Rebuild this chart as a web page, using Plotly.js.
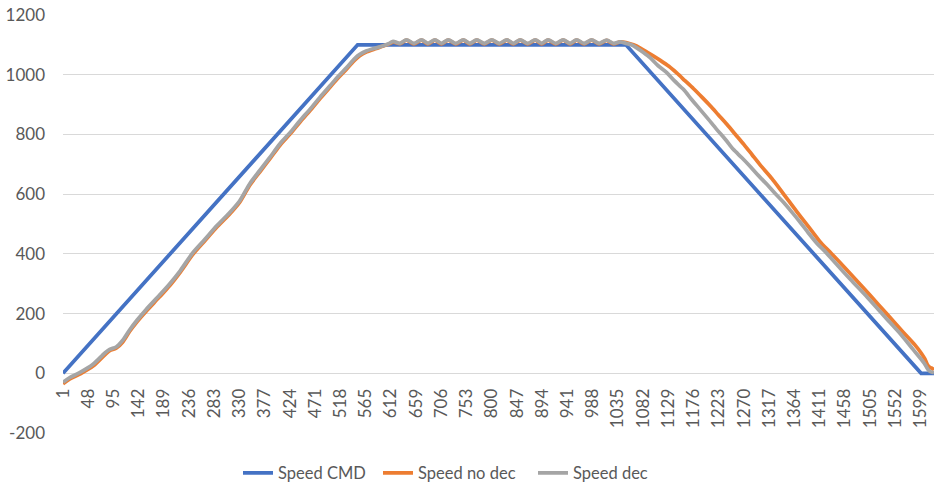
<!DOCTYPE html>
<html>
<head>
<meta charset="utf-8">
<script src="https://cdn.plot.ly/plotly-3.0.1.min.js"></script>
<style>html,body{margin:0;padding:0;background:#fff;}#chart{width:937px;height:489px;}</style>
</head>
<body>
<div id="chart"></div>
<script>
// Speed CMD (trapezoid corner samples)
const cmdX = [1, 550, 1050, 1600, 1624];
const cmdY = [0, 1100, 1100, 0, 0];

// Speed no dec
const noDecX = [1,13,32,57,79,88,100,112,125,140,156,181,200,220,243,265,287,310,330,349,368,386,405,424,442,461,480,498,514,530,545,554,567,585,598,610,
  616,629,641,655,669,681,694,706,719,733,747,759,772,786,800,814,828,840,853,867,881,893,905,919,933,946,958,972,986,1000,1014,1027,1039,
  1050,1064,1076,1089,1100,1114,1130,1145,1160,1176,1192,1207,1222,1238,1254,1270,1285,1300,1322,1338,1353,1369,1385,1400,1412,1428,1444,1475,1505,1536,1567,1588,1600,1607,1612,1616,1621,1624];
const noDecY = [-35,-20,-3,24,62,76,84,104,140,175,208,256,294,340,398,443,488,530,572,630,675,717,763,801,840,879,920,957,990,1020,1050,1064,1077,1088,1096,1104,
  1110,1104,1116,1103,1116,1103,1116,1103,1116,1103,1116,1103,1116,1103,1116,1103,1116,1103,1116,1103,1116,1103,1116,1103,1116,1103,1116,1103,1116,1103,1115,1103,1110,
  1108,1100,1090,1076,1064,1048,1028,1005,980,953,924,896,866,834,800,766,732,698,652,614,578,540,503,468,440,410,380,320,261,199,137,96,68,48,28,20,16,12];

// Speed dec
const decX = [1,13,32,57,79,88,100,112,125,140,156,181,200,220,243,265,287,310,330,349,368,386,405,424,442,461,480,498,514,530,545,554,567,585,598,610,
  616,629,641,655,669,681,694,706,719,733,747,759,772,786,800,814,828,840,853,867,881,893,905,919,933,946,958,972,986,1000,1014,1027,1039,
  1050,1060,1070,1082,1095,1110,1126,1140,1157,1172,1188,1203,1219,1235,1250,1266,1282,1297,1313,1328,1344,1360,1375,1390,1406,1420,1437,1468,1500,1531,1562,1585,1605,1615,1624];
const decY = [-30,-15,2,30,68,80,88,110,145,180,214,262,300,345,404,448,493,535,577,635,680,722,768,806,845,884,925,962,995,1025,1055,1068,1080,1090,1097,1106,
  1112,1105,1117,1105,1117,1105,1117,1105,1117,1105,1117,1105,1117,1105,1117,1105,1117,1105,1117,1105,1117,1105,1117,1105,1117,1105,1117,1105,1117,1105,1116,1105,1110,
  1105,1100,1090,1075,1057,1030,1007,980,951,918,884,852,817,784,750,722,692,662,632,602,572,538,505,470,435,410,376,315,254,192,131,80,36,8,2];

const xTicks = [1,48,95,142,189,236,283,330,377,424,471,518,565,612,659,706,753,800,847,894,941,988,1035,1082,1129,1176,1223,1270,1317,1364,1411,1458,1505,1552,1599];
const yTicks = [-200,0,200,400,600,800,1000,1200];

const FONT = "Lato, 'Liberation Sans', Arial, sans-serif";
const LW = 3.75;
const traces = [
  {x: cmdX, y: cmdY, name: 'Speed CMD', mode: 'lines', line: {color: '#4472C4', width: LW}, legend: 'legend'},
  {x: noDecX, y: noDecY, name: 'Speed no dec', mode: 'lines', line: {color: '#ED7D31', width: LW, shape: 'spline', smoothing: 0.8}, legend: 'legend2'},
  {x: decX, y: decY, name: 'Speed dec', mode: 'lines', line: {color: '#A5A5A5', width: LW, shape: 'spline', smoothing: 0.8}, legend: 'legend3'}
];
const PL = 63, PW = 871;
function legAt(px) {
  return {orientation: 'h', x: (px - PL) / PW, xanchor: 'left', y: -0.096, yanchor: 'middle',
          font: {family: FONT, size: 16.5, color: '#595959'}, bgcolor: 'rgba(0,0,0,0)', borderwidth: 0};
}
const layout = {
  width: 937, height: 489,
  margin: {l: PL, r: 3, t: 15, b: 56, autoexpand: false},
  paper_bgcolor: '#fff', plot_bgcolor: '#fff',
  font: {family: FONT, color: '#595959', size: 17},
  showlegend: true,
  legend: legAt(238),
  legend2: legAt(378),
  legend3: legAt(533),
  xaxis: {range: [1, 1624], tickmode: 'array', tickvals: xTicks, ticktext: xTicks.map(String),
          tickangle: -90, anchor: 'free', position: 200/1400, showgrid: false, zeroline: false,
          showline: false, ticks: '', ticklabelstandoff: 11, automargin: false,
          tickfont: {family: FONT, size: 17, color: '#595959'}},
  yaxis: {range: [-200, 1200], tickmode: 'array', tickvals: yTicks, ticktext: yTicks.map(String),
          showgrid: true, gridcolor: '#D9D9D9', gridwidth: 1, zeroline: false, showline: false,
          ticks: '', ticklabelstandoff: 17, automargin: false,
          tickfont: {family: FONT, size: 17, color: '#595959'}}
};
Plotly.newPlot('chart', traces, layout, {staticPlot: true, displayModeBar: false});
</script>
</body>
</html>
